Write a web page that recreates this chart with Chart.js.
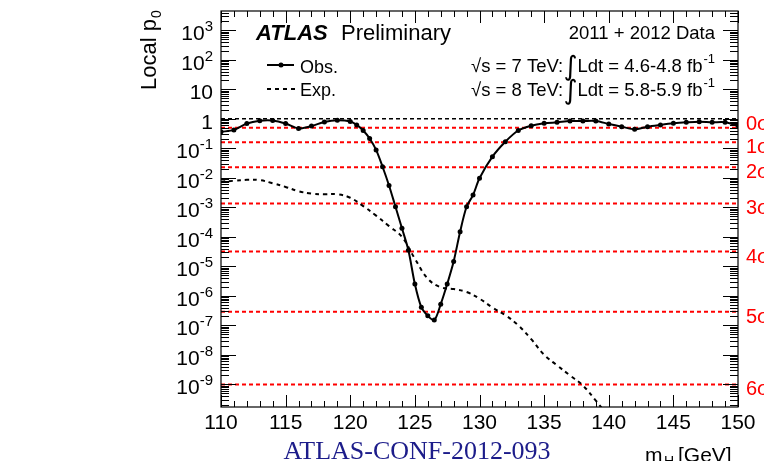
<!DOCTYPE html>
<html>
<head>
<meta charset="utf-8">
<script src="https://cdn.jsdelivr.net/npm/chart.js@4.4.1/dist/chart.umd.min.js"></script>
<style>
  body { margin: 0; background: #fff; }
  canvas { display: block; }
</style>
</head>
<body>
<canvas id="p0Chart" width="764" height="461"></canvas>
<script>
// Observed local p0 vs mH
const obsMass = [110, 111, 112, 113, 114, 115, 116, 117, 118, 119, 120, 120.5, 121, 121.5, 122, 122.5,
  123, 123.5, 124, 124.5, 125, 125.5, 126, 126.5, 127, 127.5, 128, 128.5, 129, 129.5, 130,
  131, 132, 133, 134, 135, 136, 137, 138, 139, 140, 141, 142, 143, 144, 145, 146, 147, 148, 149, 150];
const obsP = [0.36, 0.42, 0.69, 0.86, 0.875, 0.69, 0.47, 0.57, 0.78, 0.89, 0.81, 0.62, 0.40, 0.215, 0.088, 0.0237,
  5.5e-3, 1.04e-3, 1.95e-4, 3.5e-5, 2.5e-6, 4.1e-7, 2.1e-7, 1.5e-7, 5.2e-7, 2.5e-6, 1.45e-5, 1.48e-4, 1.04e-3, 2.6e-3, 9.6e-3,
  0.052, 0.167, 0.40, 0.58, 0.70, 0.76, 0.84, 0.84, 0.84, 0.67, 0.54, 0.44, 0.54, 0.62, 0.70, 0.76, 0.80, 0.76, 0.76, 0.58];

// Expected local p0
const expMass = [110, 111, 112, 113, 114, 115, 116, 117, 118, 119, 120, 121, 122, 123, 124, 125,
  126, 127, 128, 129, 130, 131, 132, 133, 134, 135, 136, 137, 138, 139, 140];
const expP = [7.4e-3, 7.9e-3, 8.5e-3, 8.3e-3, 6.5e-3, 4.9e-3, 3.5e-3, 2.9e-3, 2.75e-3, 2.75e-3, 2.1e-3, 1.1e-3, 5.2e-4, 2.3e-4, 1.0e-4, 1.8e-5,
  3.8e-6, 1.95e-6, 1.7e-6, 1.35e-6, 8.0e-7, 4.0e-7, 2.2e-7, 1.0e-7, 3.4e-8, 1.0e-8, 4.4e-9, 2.0e-9, 9.1e-10, 2.8e-10, 8e-11];

// significance levels
const sigmaP = [0.5, 0.1587, 0.02275, 1.35e-3, 3.17e-5, 2.87e-7, 9.87e-10];
const sigmaLabels = ['0σ', '1σ', '2σ', '3σ', '4σ', '5σ', '6σ'];

// axes
const xMin = 110, xMax = 150;
const yMin = 1.7e-10, yMax = 4.5e3;
const xTicks = [110, 115, 120, 125, 130, 135, 140, 145, 150];
const yTickValues = [1e3, 1e2, 1e1, 1, 1e-1, 1e-2, 1e-3, 1e-4, 1e-5, 1e-6, 1e-7, 1e-8, 1e-9];
const yTickLabels = [['10', '3'], ['10', '2'], ['10', ''], ['1', ''], ['10', '-1'], ['10', '-2'], ['10', '-3'],
  ['10', '-4'], ['10', '-5'], ['10', '-6'], ['10', '-7'], ['10', '-8'], ['10', '-9']];

const SANS = '"Liberation Sans", Arial, Helvetica, sans-serif';

function toPoints(xs, ys) {
  return xs.map((x, i) => ({ x: x, y: ys[i] }));
}

const refLines = sigmaP.map(p => ({
  data: [{ x: xMin, y: p }, { x: xMax, y: p }],
  borderColor: '#ff0000',
  borderWidth: 2,
  borderDash: [4, 3],
  pointRadius: 0,
  order: 3
}));

// draws frame, ticks, labels, texts
const decorPlugin = {
  id: 'decor',
  afterDraw(chart) {
    const c = chart.ctx;
    const a = chart.chartArea;
    const xs = chart.scales.x;
    const ys = chart.scales.y;
    c.save();
    c.strokeStyle = '#000';
    c.fillStyle = '#000';
    c.lineWidth = 1.2;
    c.strokeRect(a.left, a.top, a.right - a.left, a.bottom - a.top);

    // x ticks, inside, top and bottom
    c.beginPath();
    for (let m = xMin; m <= xMax; m++) {
      const px = Math.round(xs.getPixelForValue(m)) + 0.5;
      const len = (m % 5 === 0) ? 12 : 6;
      c.moveTo(px, a.bottom); c.lineTo(px, a.bottom - len);
      c.moveTo(px, a.top); c.lineTo(px, a.top + len);
    }
    // y ticks, inside, left and right
    for (let e = -10; e <= 3; e++) {
      for (let k = 1; k <= 9; k++) {
        const v = k * Math.pow(10, e);
        if (v < yMin || v > yMax) continue;
        const py = Math.round(ys.getPixelForValue(v)) + 0.5;
        const len = k === 1 ? 15 : 8;
        c.moveTo(a.left, py); c.lineTo(a.left + len, py);
        c.moveTo(a.right, py); c.lineTo(a.right - len, py);
      }
    }
    c.lineWidth = 1;
    c.stroke();

    // x tick labels
    c.font = '21px ' + SANS;
    c.textAlign = 'center';
    c.textBaseline = 'alphabetic';
    xTicks.forEach(t => {
      c.fillText(String(t), xs.getPixelForValue(t), 429);
    });

    // y tick labels with superscripts
    yTickValues.forEach((v, i) => {
      const py = ys.getPixelForValue(v);
      const base = yTickLabels[i][0], sup = yTickLabels[i][1];
      c.font = '21px ' + SANS;
      const wb = c.measureText(base).width;
      c.font = '15px ' + SANS;
      const ws = sup ? c.measureText(sup).width : 0;
      const right = 213;
      c.textAlign = 'left';
      c.font = '21px ' + SANS;
      c.fillText(base, right - wb - ws, py + 10);
      if (sup) {
        c.font = '15px ' + SANS;
        c.fillText(sup, right - ws, py + 1);
      }
    });

    // sigma labels on right side (0σ sits just above its line)
    c.fillStyle = '#ff0000';
    c.font = '20px ' + SANS;
    c.textAlign = 'left';
    sigmaP.forEach((p, i) => {
      const dy = i === 0 ? 2 : 11;
      c.fillText(sigmaLabels[i], 746, ys.getPixelForValue(p) + dy);
    });
    c.fillStyle = '#000';

    // y title
    c.save();
    c.translate(156, 90);
    c.rotate(-Math.PI / 2);
    c.font = '22px ' + SANS;
    c.fillText('Local p', 0, 0);
    const wl = c.measureText('Local p').width;
    c.font = '14px ' + SANS;
    c.fillText('0', wl + 1, 5);
    c.restore();

    // x title
    c.font = '21px ' + SANS;
    c.textAlign = 'left';
    c.fillText('m', 645, 462);
    c.font = '14px ' + SANS;
    c.fillText('H', 664, 466);
    c.font = '21px ' + SANS;
    c.fillText('[GeV]', 678, 462);

    // conf note
    c.fillStyle = '#1c1c8a';
    c.font = '26px "Liberation Serif", "Times New Roman", serif';
    c.textAlign = 'center';
    c.fillText('ATLAS-CONF-2012-093', 417, 459);
    c.fillStyle = '#000';

    // ATLAS Preliminary
    c.textAlign = 'left';
    c.font = 'italic bold 22px ' + SANS;
    c.fillText('ATLAS', 256, 40);
    c.font = '22px ' + SANS;
    c.fillText('Preliminary', 341, 40);

    // data labels
    c.font = '18.5px ' + SANS;
    c.textAlign = 'right';
    c.fillText('2011 + 2012 Data', 715, 39);
    const lumi = [['√s = 7 TeV:', 'Ldt = 4.6-4.8 fb', 72], ['√s = 8 TeV:', 'Ldt = 5.8-5.9 fb', 96]];
    lumi.forEach(l => {
      c.textAlign = 'right';
      c.font = '13px ' + SANS;
      c.fillText('-1', 715, l[2] - 9);
      const wsup = c.measureText('-1').width;
      c.font = '18.5px ' + SANS;
      c.fillText(l[1], 715 - wsup - 1, l[2]);
      const wl2 = c.measureText(l[1]).width;
      const xi = 715 - wsup - 1 - wl2;
      c.font = '27px "DejaVu Sans", sans-serif';
      c.fillText('∫', xi, l[2] + 3);
      c.textAlign = 'left';
      c.font = '18.5px ' + SANS;
      c.fillText(l[0], 471, l[2]);
    });

    // legend
    c.lineWidth = 2;
    c.beginPath();
    c.moveTo(267, 65); c.lineTo(294, 65);
    c.stroke();
    c.beginPath();
    c.arc(281, 65, 2.5, 0, Math.PI * 2);
    c.fill();
    c.setLineDash([4, 4]);
    c.beginPath();
    c.moveTo(267, 89); c.lineTo(295, 89);
    c.stroke();
    c.setLineDash([]);
    c.font = '18px ' + SANS;
    c.textAlign = 'left';
    c.fillText('Obs.', 300, 73);
    c.fillText('Exp.', 300, 96);
    c.restore();
  }
};

const chart = new Chart(document.getElementById('p0Chart').getContext('2d'), {
  type: 'line',
  data: {
    datasets: [
      {
        label: 'Obs.',
        data: toPoints(obsMass, obsP),
        borderColor: '#000',
        backgroundColor: '#000',
        borderWidth: 2,
        pointRadius: 2.5,
        pointBorderWidth: 0,
        tension: 0.3,
        order: 0
      },
      {
        label: 'Exp.',
        data: toPoints(expMass, expP),
        borderColor: '#000',
        borderWidth: 2,
        borderDash: [4, 4],
        pointRadius: 0,
        tension: 0.4,
        order: 1
      },
      {
        data: [{ x: xMin, y: 1 }, { x: xMax, y: 1 }],
        borderColor: '#000',
        borderWidth: 1.5,
        borderDash: [4, 3],
        pointRadius: 0,
        order: 2
      },
      ...refLines
    ]
  },
  options: {
    responsive: false,
    animation: false,
    layout: { padding: { left: 221, right: 26, top: 11, bottom: 54 } },
    scales: {
      x: { type: 'linear', min: xMin, max: xMax, display: false },
      y: { type: 'logarithmic', min: yMin, max: yMax, display: false }
    },
    plugins: { legend: { display: false }, tooltip: { enabled: false } }
  },
  plugins: [decorPlugin]
});
</script>
</body>
</html>
